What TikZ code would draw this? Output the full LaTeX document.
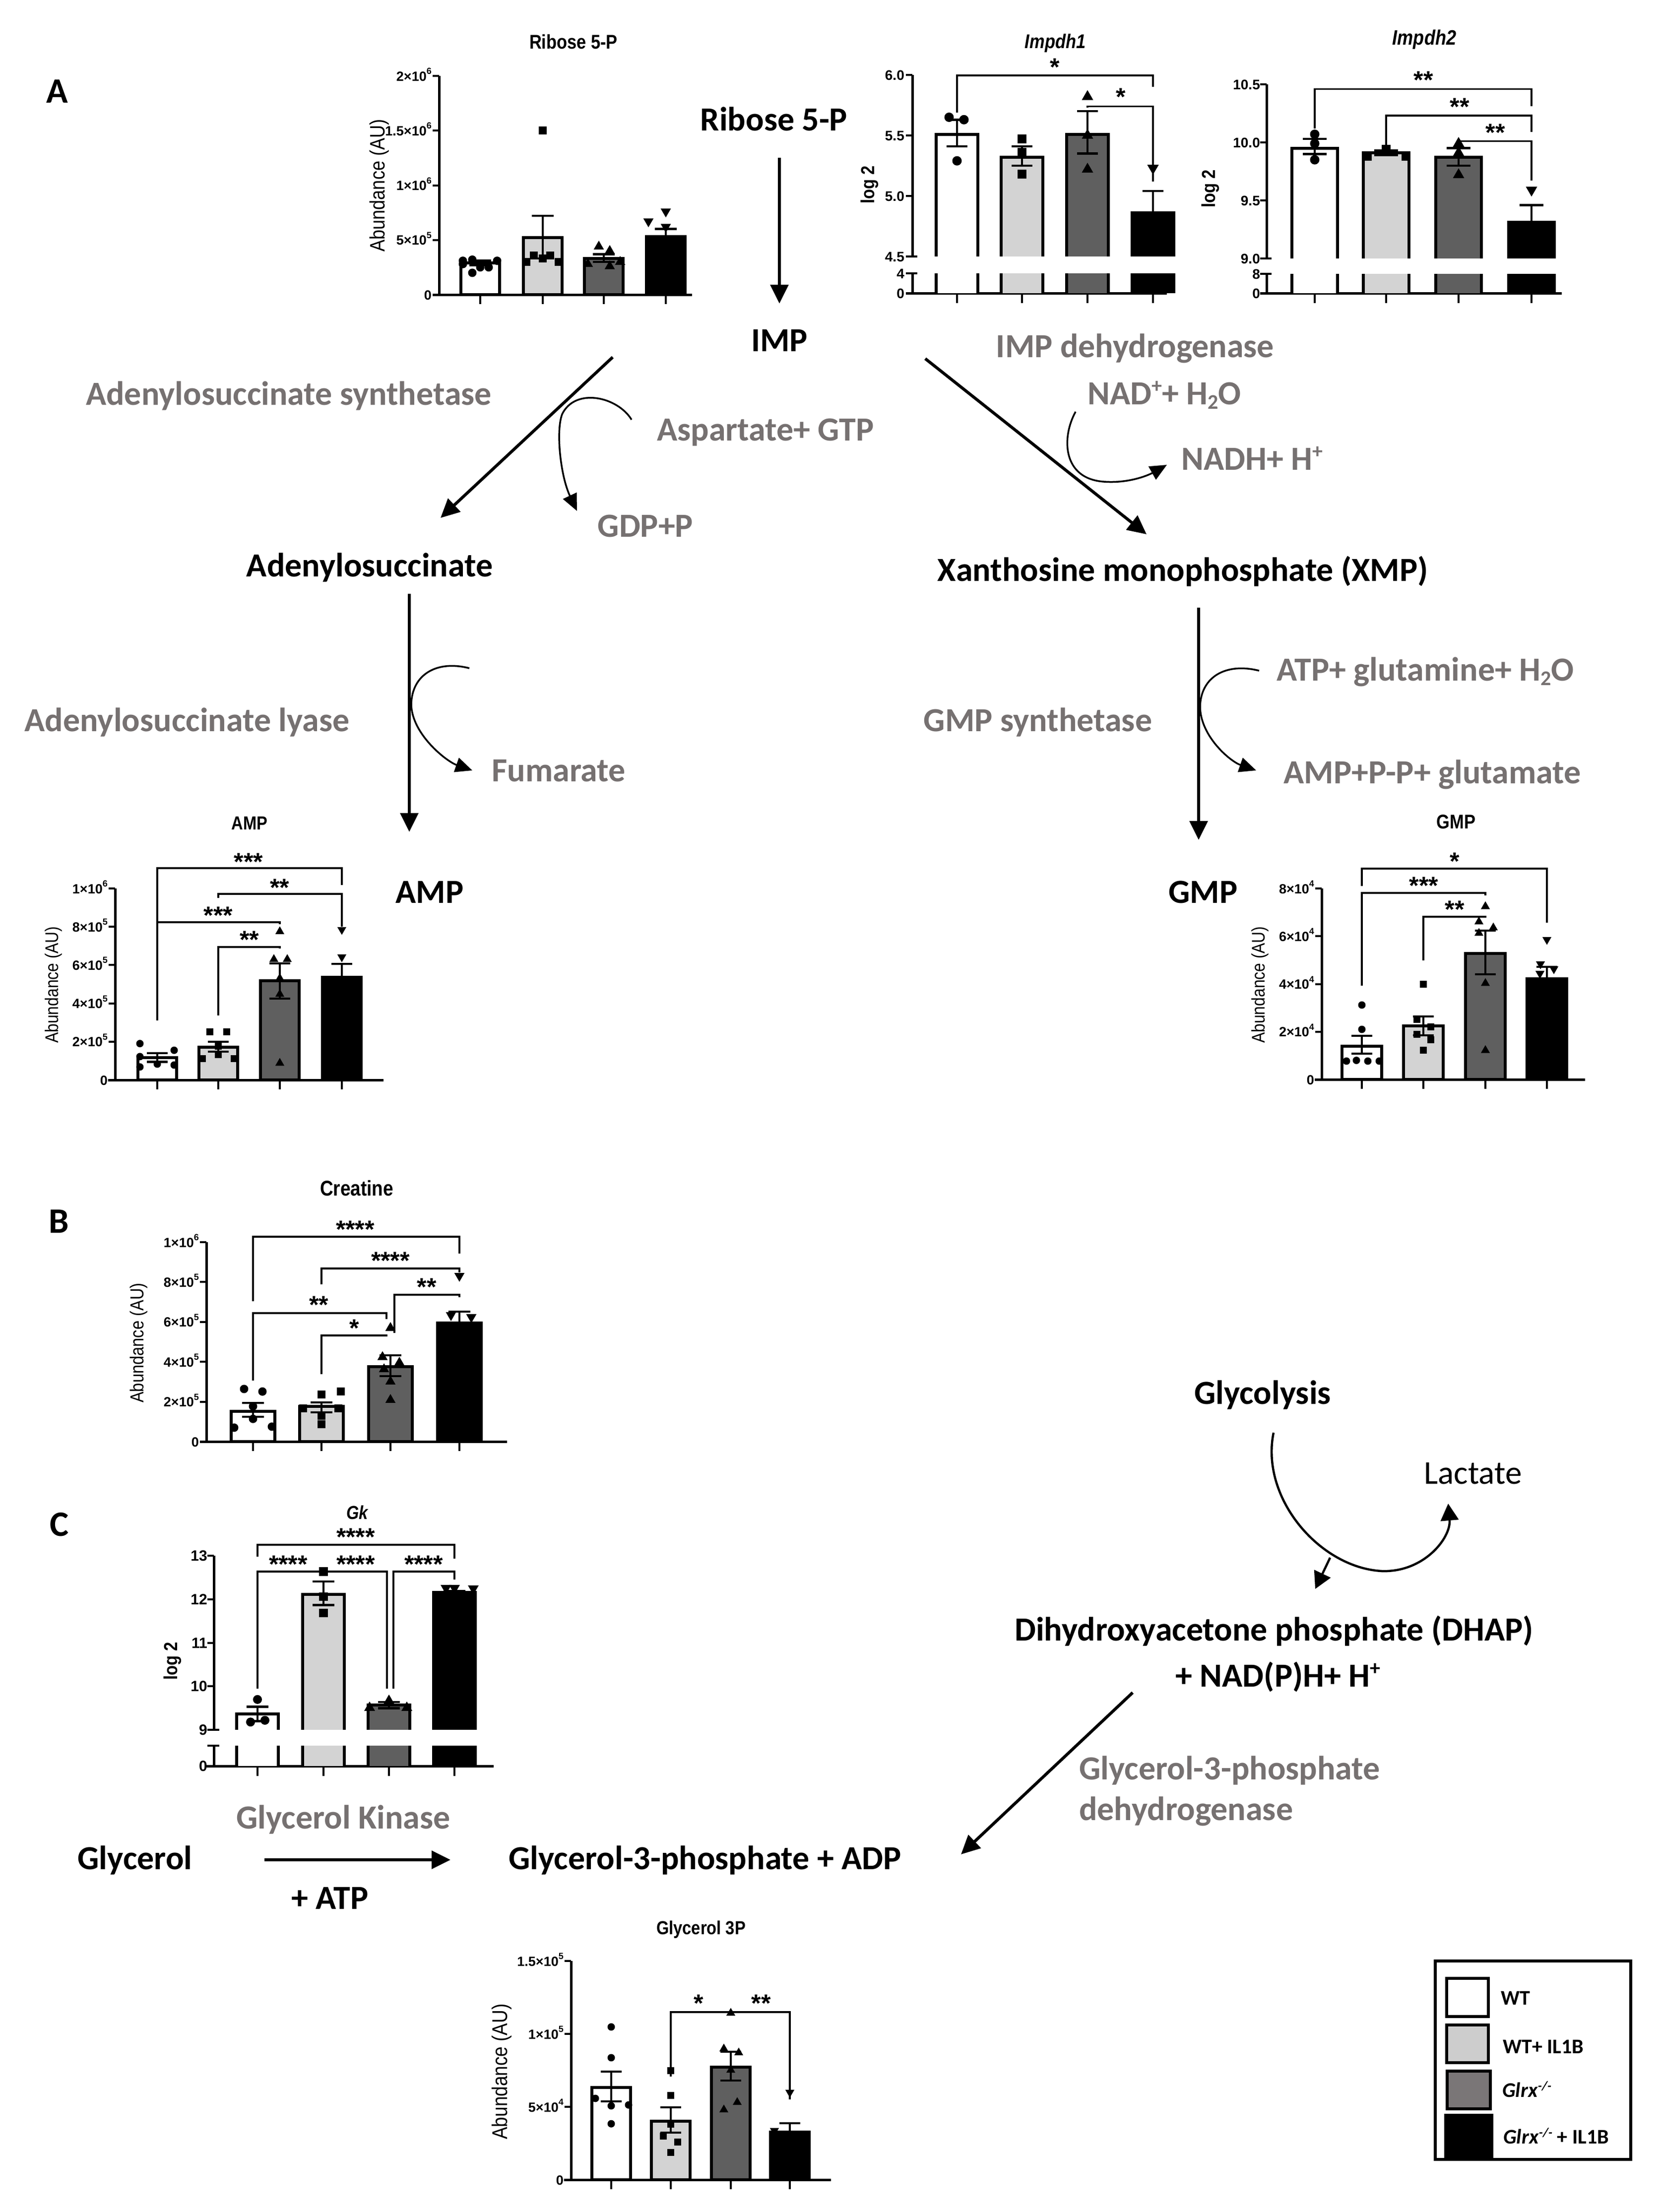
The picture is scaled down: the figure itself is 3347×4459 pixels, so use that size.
\documentclass[tikz,border=0pt]{standalone}
\usepackage{fontspec}
\setmainfont{Carlito}
\newfontfamily\cf[FakeStretch=0.86]{Liberation Sans}
\newfontfamily\sfn{Liberation Sans}
\usetikzlibrary{arrows.meta,shapes.geometric}
\definecolor{lg}{RGB}{211,211,211}
\definecolor{dg}{RGB}{95,95,95}
\definecolor{enz}{RGB}{118,113,113}
\definecolor{lgl}{RGB}{205,205,205}
\definecolor{dgl}{RGB}{122,118,119}
\newcommand\fsz[1]{\fontsize{#1}{#1}\selectfont}
\newcounter{mkc}
\newcommand\Yp[1]{\yz-\kk*#1}
\newcommand\chsup[1]{\raisebox{0.5em}{\fsz{\tss}#1}}
\newcommand\msup[1]{\raisebox{24pt}{\fsz{42}#1}}
\newcommand\msub[1]{\raisebox{-9pt}{\fsz{42}#1}}
\newcommand\pbar[3]{\filldraw[barst,fill=#3] ({#1-\hw},\Yp{0}) rectangle ({#1+\hw},\Yp{#2});}
\newcommand\bbar[3]{%
 \fill[#3] ({#1-\hw},\yu) rectangle ({#1+\hw},\Yp{#2});
 \draw[barst] ({#1-\hw},\yu) -- ({#1-\hw},\Yp{#2}) -- ({#1+\hw},\Yp{#2}) -- ({#1+\hw},\yu);
 \fill[#3] ({#1-\hw},\yl) rectangle ({#1+\hw},\yb);
 \draw[barst] ({#1-\hw},\yl) -- ({#1-\hw},\yb) ({#1+\hw},\yl) -- ({#1+\hw},\yb);}
\newcommand\perr[3]{\draw[errst] (#1,\Yp{#2}) -- (#1,\Yp{#3}) ({#1-\cw},\Yp{#2}) -- ({#1+\cw},\Yp{#2}) ({#1-\cw},\Yp{#3}) -- ({#1+\cw},\Yp{#3});}
\newcommand\dpt[3]{\stepcounter{mkc}\node[#1] (m\arabic{mkc}) at (#2,\Yp{#3}) {};}
\newcommand\sigbr[5]{\draw[brst] (#1,\Yp{#2}) -- (#1,\Yp{#3}) -- (#4,\Yp{#3}) -- (#4,\Yp{#5});}
\newcommand\sigst[3]{\stepcounter{mkc}\node[starst] (m\arabic{mkc}) at (#1,#2+28) {#3};}
\newcommand\ytl[2]{\draw[tkst] ({\ax-13},\Yp{#1}) -- (\ax,\Yp{#1}); \stepcounter{mkc}\node[tl] (m\arabic{mkc}) at ({\ax-15},\Yp{#1}+10) {#2};}
\newcommand\ptl[2]{\stepcounter{mkc}\node[tl] (m\arabic{mkc}) at ({\ax-16},#1+10) {#2};}
\def\ms{16}
\tikzset{
 axl/.style={line width=5pt},
 tkst/.style={line width=4pt},
 barst/.style={line width=6pt, draw=black},
 errst/.style={line width=4.5pt},
 brst/.style={line width=3.5pt},
 cir/.style={circle, fill=black, inner sep=0pt, minimum size=\ms pt},
 sqr/.style={rectangle, fill=black, inner sep=0pt, minimum size={0.95*\ms pt}},
 tup/.style={regular polygon, regular polygon sides=3, fill=black, inner sep=0pt, minimum size={1.4*\ms pt}},
 tdn/.style={tup, shape border rotate=180},
 tl/.style={anchor=base east, inner sep=0pt, font=\sfn\bfseries\fsz{\tfs}},
 ctitle/.style={anchor=base, inner sep=0pt, font=\cf\bfseries\fsz{40}},
 albl/.style={rotate=90, inner sep=0pt},
 starst/.style={anchor=base, inner sep=0pt, font=\sfn\bfseries\fsz{50}},
 met/.style={anchor=base, inner sep=0pt, font=\bfseries\fsz{68}},
 enzt/.style={met, text=enz},
 mainarr/.style={line width=6pt, -{Triangle[width=36pt,length=38pt]}},
 curvarr/.style={line width=3.5pt, -{Triangle[width=30pt,length=34pt]}},
 looparr/.style={line width=4.5pt, -{Triangle[width=36pt,length=34pt]}},
 legt/.style={anchor=base west, inner sep=0pt, font=\bfseries\fsz{42}},
}
\begin{document}
\begin{tikzpicture}[x=1pt,y=-1pt]
\useasboundingbox (0,0) rectangle (3347,4459);
\fill[white] (0,0) rectangle (3347,4459);

%================ Ribose 5-P chart
\def\yz{594}\def\kk{220.5}\def\hw{39}\def\cw{22}\def\ax{885}\def\tss{18}\def\tfs{27}\def\ms{17}
\draw[axl] (\ax,\Yp{2}) -- (\ax,\Yp{0});
\draw[axl] (872,\Yp{0}) -- (1395,\Yp{0});
\foreach \v/\lb in {0/0,0.5/5×10\chsup{5},1/1×10\chsup{6},1.5/1.5×10\chsup{6},2/2×10\chsup{6}}{\ytl{\v}{\lb}}
\foreach \x in {968,1094,1217,1342} \draw[tkst] (\x,\Yp{0}) -- (\x,\Yp{0}+19);
\pbar{968}{0.29}{white}\pbar{1094}{0.52}{lg}\pbar{1217}{0.33}{dg}\pbar{1342}{0.53}{black}
\perr{968}{0.27}{0.31}\perr{1094}{0.33}{0.72}\perr{1217}{0.30}{0.37}\perr{1342}{0.47}{0.60}
\dpt{cir}{933}{0.31}\dpt{cir}{952}{0.32}\dpt{cir}{952}{0.20}\dpt{cir}{968}{0.25}\dpt{cir}{985}{0.25}\dpt{cir}{1002}{0.31}\dpt{cir}{933}{0.28}
\dpt{sqr}{1094}{1.50}\dpt{sqr}{1061}{0.30}\dpt{sqr}{1076}{0.36}\dpt{sqr}{1094}{0.33}\dpt{sqr}{1109}{0.36}\dpt{sqr}{1126}{0.30}
\dpt{tup}{1207}{0.44}\dpt{tup}{1229}{0.40}\dpt{tup}{1185}{0.28}\dpt{tup}{1229}{0.26}\dpt{tup}{1250}{0.30}
\dpt{tdn}{1342}{0.76}\dpt{tdn}{1307}{0.67}\dpt{tdn}{1342}{0.62}
\node[ctitle] (t1) at (1156,99) {Ribose 5-P};
\node[albl, font=\cf\fsz{42}] (a1) at (765,374) {Abundance (AU)};

%================ Impdh1 chart
\def\yz{1615}\def\kk{244}\def\hw{42}\def\cw{21}\def\ax{1839}\def\yu{517}\def\yl{551}\def\yb{591}\def\tfs{28}\def\ms{19}
\draw[axl] (\ax,517) -- (\ax,151);
\draw[axl] (\ax,551) -- (\ax,591);
\draw[axl] (1826,591) -- (2352,591);
\foreach \yy in {151,273,395} \draw[tkst] (1826,\yy) -- (\ax,\yy);
\draw[tkst] (1826,517) -- (1849,517);
\draw[tkst] (1826,551) -- (1849,551);
\ptl{151}{6.0}\ptl{273}{5.5}\ptl{395}{5.0}\ptl{517}{4.5}\ptl{551}{4}\ptl{591}{0}
\foreach \x in {1929,2060,2192,2324} \draw[tkst] (\x,591) -- (\x,611);
\bbar{1929}{5.51}{white}\bbar{2060}{5.32}{lg}\bbar{2192}{5.51}{dg}\bbar{2324}{4.86}{black}
\perr{1929}{5.41}{5.63}\perr{2060}{5.25}{5.41}\perr{2192}{5.35}{5.70}\perr{2324}{4.70}{5.04}
\dpt{cir}{1913}{5.65}\dpt{cir}{1943}{5.63}\dpt{cir}{1929}{5.29}
\dpt{sqr}{2060}{5.47}\dpt{sqr}{2060}{5.36}\dpt{sqr}{2060}{5.18}
\dpt{tup}{2192}{5.82}\dpt{tup}{2192}{5.50}\dpt{tup}{2192}{5.22}
\dpt{tdn}{2324}{5.23}
\sigbr{1929}{5.69}{5.996}{2324}{5.90}
\sigbr{2192}{5.73}{5.74}{2324}{5.12}
\sigst{2126}{124}{*}\sigst{2259}{184}{*}
\node[ctitle, font=\cf\bfseries\itshape\fsz{40}] (t2) at (2127,97) {Impdh1};
\node[albl, font=\cf\bfseries\fsz{38}] (a2) at (1753,372) {log 2};

%================ Impdh2 chart
\def\yz{2627}\def\kk{234}\def\hw{46}\def\cw{24}\def\ax{2553}\def\yu{521}\def\yl{552}\def\yb{591}
\draw[axl] (\ax,521) -- (\ax,170);
\draw[axl] (\ax,552) -- (\ax,591);
\draw[axl] (2540,591) -- (3148,591);
\foreach \yy in {170,287,404} \draw[tkst] (2540,\yy) -- (\ax,\yy);
\draw[tkst] (2540,521) -- (2563,521);
\draw[tkst] (2540,552) -- (2563,552);
\def\ax{2556}
\ptl{170}{10.5}\ptl{287}{10.0}\ptl{404}{9.5}\ptl{521}{9.0}\ptl{552}{8}\ptl{591}{0}
\def\ax{2553}
\foreach \x in {2650,2794,2940,3087} \draw[tkst] (\x,591) -- (\x,611);
\bbar{2650}{9.95}{white}\bbar{2794}{9.91}{lg}\bbar{2940}{9.87}{dg}\bbar{3087}{9.31}{black}
\perr{2650}{9.90}{10.03}\perr{2794}{9.89}{9.93}\perr{2940}{9.80}{9.95}\perr{3087}{9.16}{9.46}
\dpt{cir}{2650}{10.07}\dpt{cir}{2650}{9.99}\dpt{cir}{2650}{9.85}
\dpt{sqr}{2794}{9.94}\dpt{sqr}{2756}{9.88}\dpt{sqr}{2834}{9.88}
\dpt{tup}{2940}{9.99}\dpt{tup}{2940}{9.91}\dpt{tup}{2940}{9.72}
\dpt{tdn}{3087}{9.59}
\sigbr{2650}{10.12}{10.46}{3087}{10.31}
\sigbr{2794}{9.97}{10.23}{3087}{10.09}
\sigbr{2940}{10.00}{10.01}{3087}{9.67}
\sigst{2869}{150}{**}\sigst{2942}{204}{**}\sigst{3014}{256}{**}
\node[ctitle, font=\cf\bfseries\itshape\fsz{42}] (t3) at (2871,91) {Impdh2};
\node[albl, font=\cf\bfseries\fsz{38}] (a3) at (2440,380) {log 2};

%================ AMP chart
\def\yz{2177}\def\kk{38.6}\def\hw{39}\def\cw{21}\def\ax{232}\def\tfs{27}\def\ms{15}
\draw[axl] (\ax,\Yp{10}) -- (\ax,\Yp{0});
\draw[axl] (218,\Yp{0}) -- (773,\Yp{0});
\foreach \v/\lb in {0/0,2/2×10\chsup{5},4/4×10\chsup{5},6/6×10\chsup{5},8/8×10\chsup{5},10/1×10\chsup{6}}{\ytl{\v}{\lb}}
\foreach \x in {317,440,564,689} \draw[tkst] (\x,\Yp{0}) -- (\x,\Yp{0}+19);
\pbar{317}{1.17}{white}\pbar{440}{1.71}{lg}\pbar{564}{5.18}{dg}\pbar{689}{5.36}{black}
\perr{317}{0.95}{1.40}\perr{440}{1.48}{1.99}\perr{564}{4.25}{6.09}\perr{689}{4.70}{6.06}
\dpt{cir}{282}{1.90}\dpt{cir}{282}{1.22}\dpt{cir}{282}{0.68}\dpt{cir}{317}{0.83}\dpt{cir}{351}{1.55}\dpt{cir}{351}{0.78}
\dpt{sqr}{423}{2.51}\dpt{sqr}{457}{2.51}\dpt{sqr}{440}{1.32}\dpt{sqr}{408}{1.11}\dpt{sqr}{472}{1.11}\dpt{sqr}{440}{1.76}
\dpt{tup}{564}{7.75}\dpt{tup}{552}{6.30}\dpt{tup}{579}{6.30}\dpt{tup}{564}{5.31}\dpt{tup}{564}{4.48}\dpt{tup}{564}{0.88}
\dpt{tdn}{689}{7.85}\dpt{tdn}{689}{6.42}
\sigbr{317}{3.12}{11.06}{689}{10.18}
\sigbr{440}{9.51}{9.72}{689}{8.00}
\sigbr{317}{5.75}{8.24}{564}{8.13}
\sigbr{440}{3.37}{6.94}{564}{6.87}
\sigst{501}{1726}{***}\sigst{564}{1778}{**}\sigst{440}{1834}{***}\sigst{503}{1883}{**}
\node[ctitle, font=\cf\bfseries\fsz{38}] (t4) at (503,1672) {AMP};
\node[albl, font=\cf\fsz{37}] (a4) at (108,1985) {Abundance (AU)};

%================ GMP chart
\def\yz{2176}\def\kk{48.1}\def\hw{40}\def\cw{21}\def\ax{2664}
\draw[axl] (\ax,\Yp{8}) -- (\ax,\Yp{0});
\draw[axl] (2650,\Yp{0}) -- (3195,\Yp{0});
\foreach \v/\lb in {0/0,2/2×10\chsup{4},4/4×10\chsup{4},6/6×10\chsup{4},8/8×10\chsup{4}}{\ytl{\v}{\lb}}
\foreach \x in {2745,2869,2994,3118} \draw[tkst] (\x,\Yp{0}) -- (\x,\Yp{0}+19);
\pbar{2745}{1.39}{white}\pbar{2869}{2.25}{lg}\pbar{2994}{5.28}{dg}\pbar{3118}{4.22}{black}
\perr{2745}{1.08}{1.83}\perr{2869}{1.85}{2.64}\perr{2994}{4.41}{6.24}\perr{3118}{3.70}{4.72}
\dpt{cir}{2745}{3.12}\dpt{cir}{2745}{2.10}\dpt{cir}{2714}{0.77}\dpt{cir}{2734}{0.80}\dpt{cir}{2757}{0.77}\dpt{cir}{2780}{0.77}
\dpt{sqr}{2869}{3.99}\dpt{sqr}{2856}{2.52}\dpt{sqr}{2884}{2.20}\dpt{sqr}{2856}{1.89}\dpt{sqr}{2884}{1.66}\dpt{sqr}{2869}{1.22}
\dpt{tup}{2994}{7.25}\dpt{tup}{2981}{6.61}\dpt{tup}{3010}{6.36}\dpt{tup}{2981}{6.13}\dpt{tup}{2994}{4.03}\dpt{tup}{2994}{1.22}
\dpt{tdn}{3118}{5.86}\dpt{tdn}{3105}{4.84}\dpt{tdn}{3132}{4.63}\dpt{tdn}{3104}{4.44}
\sigbr{2745}{8.11}{8.84}{3118}{6.57}
\sigbr{2745}{3.93}{7.82}{2994}{7.71}
\sigbr{2869}{4.99}{6.82}{2994}{6.78}
\sigst{2932}{1725}{*}\sigst{2870}{1774}{***}\sigst{2932}{1822}{**}
\node[ctitle, font=\cf\bfseries\fsz{40}] (t5) at (2935,1670) {GMP};
\node[albl, font=\cf\fsz{37}] (a5) at (2540,1985) {Abundance (AU)};

%================ Creatine chart
\def\yz{2906}\def\kk{40.2}\def\hw{44}\def\cw{22}\def\ax{416}\def\ms{17}
\draw[axl] (\ax,\Yp{10}) -- (\ax,\Yp{0});
\draw[axl] (403,\Yp{0}) -- (1022,\Yp{0});
\foreach \v/\lb in {0/0,2/2×10\chsup{5},4/4×10\chsup{5},6/6×10\chsup{5},8/8×10\chsup{5},10/1×10\chsup{6}}{\ytl{\v}{\lb}}
\foreach \x in {510,648,787,926} \draw[tkst] (\x,\Yp{0}) -- (\x,\Yp{0}+19);
\pbar{510}{1.52}{white}\pbar{648}{1.77}{lg}\pbar{787}{3.76}{dg}\pbar{926}{5.95}{black}
\perr{510}{1.24}{1.94}\perr{648}{1.47}{1.97}\perr{787}{3.28}{4.33}\perr{926}{5.40}{6.52}
\dpt{cir}{492}{2.64}\dpt{cir}{529}{2.51}\dpt{cir}{510}{1.77}\dpt{cir}{510}{1.14}\dpt{cir}{472}{0.70}\dpt{cir}{548}{0.75}
\dpt{sqr}{687}{2.51}\dpt{sqr}{648}{2.36}\dpt{sqr}{611}{1.67}\dpt{sqr}{682}{1.67}\dpt{sqr}{648}{1.29}\dpt{sqr}{648}{0.87}
\dpt{tup}{787}{5.70}\dpt{tup}{771}{4.24}\dpt{tup}{805}{3.96}\dpt{tup}{774}{3.63}\dpt{tup}{787}{3.01}\dpt{tup}{787}{2.09}
\dpt{tdn}{926}{8.31}\dpt{tdn}{909}{6.34}\dpt{tdn}{950}{6.24}
\sigbr{510}{7.04}{10.27}{926}{9.43}
\sigbr{648}{7.89}{8.68}{926}{8.48}
\sigbr{795}{5.45}{7.36}{926}{7.25}
\sigbr{510}{3.06}{6.44}{779}{6.14}
\sigbr{648}{3.38}{5.32}{779}{5.27}
\sigst{716}{2467}{****}\sigst{787}{2530}{****}\sigst{860}{2583}{**}\sigst{643}{2619}{**}\sigst{714}{2666}{*}
\node[ctitle, font=\cf\bfseries\fsz{43}] (t6) at (719,2410) {Creatine};
\node[albl, font=\cf\fsz{38}] (a6) at (280,2707) {Abundance (AU)};

%================ Gk chart
\def\yz{4273.6}\def\kk{87.4}\def\hw{42}\def\cw{22}\def\ax{431}\def\yu{3487}\def\yl{3519}\def\yb{3560}\def\tfs{30}\def\ms{18}
\draw[axl] (\ax,3487) -- (\ax,3136);
\draw[axl] (\ax,3519) -- (\ax,3560);
\draw[axl] (414,3560) -- (995,3560);
\foreach \yy in {3136,3224,3312,3399} \draw[tkst] (418,\yy) -- (\ax,\yy);
\draw[tkst] (418,3487) -- (442,3487);
\draw[tkst] (418,3519) -- (442,3519);
\def\ax{434}
\ptl{3136}{13}\ptl{3224}{12}\ptl{3312}{11}\ptl{3399}{10}\ptl{3487}{9}\ptl{3560}{0}
\def\ax{431}
\foreach \x in {519,652,784,916} \draw[tkst] (\x,3560) -- (\x,3580);
\bbar{519}{9.37}{white}\bbar{652}{12.12}{lg}\bbar{784}{9.57}{dg}\bbar{916}{12.17}{black}
\perr{519}{9.20}{9.53}\perr{652}{11.88}{12.42}\perr{784}{9.50}{9.64}\perr{916}{12.14}{12.20}
\dpt{cir}{519}{9.70}\dpt{cir}{505}{9.18}\dpt{cir}{534}{9.22}
\dpt{sqr}{652}{12.65}\dpt{sqr}{652}{12.07}\dpt{sqr}{652}{11.69}
\dpt{tup}{784}{9.67}\dpt{tup}{745}{9.51}\dpt{tup}{820}{9.51}
\dpt{tdn}{899}{12.27}\dpt{tdn}{954}{12.26}\dpt{tdn}{916}{12.27}
\sigbr{519}{12.99}{13.27}{916}{12.95}
\sigbr{519}{9.95}{12.65}{780}{9.95}
\sigbr{793}{9.95}{12.65}{916}{12.47}
\sigst{717}{3087}{****}\sigst{581}{3142}{****}\sigst{717}{3142}{****}\sigst{854}{3142}{****}
\node[ctitle, font=\cf\bfseries\itshape\fsz{38}] (t7) at (720,3062) {Gk};
\node[albl, font=\cf\bfseries\fsz{38}] (a7) at (348,3348) {log 2};

%================ Glycerol 3P chart
\def\yz{4394}\def\kk{29.4}\def\hw{39}\def\cw{21}\def\ax{1151}\def\tfs{27}\def\ms{15}
\draw[axl] (\ax,\Yp{15}) -- (\ax,\Yp{0});
\draw[axl] (1137,\Yp{0}) -- (1675,\Yp{0});
\foreach \v/\lb in {0/0,5/5×10\chsup{4},10/1×10\chsup{5},15/1.5×10\chsup{5}}{\ytl{\v}{\lb}}
\foreach \x in {1232,1352,1473,1592} \draw[tkst] (\x,\Yp{0}) -- (\x,\Yp{0}+19);
\pbar{1232}{6.33}{white}\pbar{1352}{4.01}{lg}\pbar{1473}{7.72}{dg}\pbar{1592}{3.27}{black}
\perr{1232}{5.37}{7.41}\perr{1352}{3.23}{4.97}\perr{1473}{6.80}{8.78}\perr{1592}{2.70}{3.88}
\dpt{cir}{1232}{10.48}\dpt{cir}{1232}{8.37}\dpt{cir}{1200}{5.58}\dpt{cir}{1267}{5.13}\dpt{cir}{1232}{5.07}\dpt{cir}{1232}{3.84}
\dpt{sqr}{1352}{7.48}\dpt{sqr}{1352}{5.78}\dpt{sqr}{1352}{3.81}\dpt{sqr}{1337}{2.99}\dpt{sqr}{1366}{2.59}\dpt{sqr}{1352}{1.87}
\dpt{tup}{1473}{11.43}\dpt{tup}{1459}{8.98}\dpt{tup}{1489}{8.71}\dpt{tup}{1473}{7.52}\dpt{tup}{1486}{5.31}\dpt{tup}{1459}{4.80}
\dpt{tdn}{1592}{5.99}\dpt{tdn}{1561}{3.37}
\sigbr{1352}{7.07}{11.50}{1592}{5.51}
\sigst{1408}{4027}{*}\sigst{1534}{4027}{**}
\node[ctitle, font=\cf\bfseries\fsz{38}] (t8) at (1413,3899) {Glycerol 3P};
\node[albl, font=\cf\fsz{43}] (a8) at (1011,4176) {Abundance (AU)};

%================ Legend
\draw[line width=6pt] (2893,3953) rectangle (3287,4353);
\filldraw[line width=6pt, fill=white] (2916,3988) rectangle (3000,4065);
\filldraw[line width=6pt, fill=lgl] (2916,4082) rectangle (3000,4158);
\filldraw[line width=6pt, fill=dgl] (2917,4175) rectangle (3004,4251);
\filldraw[line width=6pt, fill=black] (2914,4264) rectangle (3007,4347);
\node[legt] (l1) at (3025,4041) {WT};
\node[legt] (l2) at (3029,4139) {WT+ IL1B};
\node[legt] (l3) at (3028,4227) {\textit{Glrx}\raisebox{14pt}{\fsz{26}\textit{-/-}}};
\node[legt] (l4) at (3030,4321) {\textit{Glrx}\raisebox{14pt}{\fsz{26}\textit{-/-}} + IL1B};

%================ Panel letters
\node[met, font=\bfseries\fsz{72}] (pA) at (115,207) {A};
\node[met, font=\bfseries\fsz{72}] (pB) at (119,2485) {B};
\node[met, font=\bfseries\fsz{72}] (pC) at (120,3096) {C};

%================ Pathway text
\node[met] (ribose) at (1560,263) {Ribose 5-P};
\node[met] (imp) at (1571,708) {IMP};
\node[enzt] (impdh) at (2288,720) {IMP dehydrogenase};
\node[enzt] (nad) at (2347,815) {NAD\msup{+}+ H\msub{2}O};
\node[enzt] (nadh) at (2524,947) {NADH+ H\msup{+}};
\node[enzt] (adss) at (582,816) {Adenylosuccinate synthetase};
\node[enzt] (asp) at (1543,888) {Aspartate+ GTP};
\node[enzt] (gdp) at (1301,1082) {GDP+P};
\node[met] (adsucc) at (745,1162) {Adenylosuccinate};
\node[met] (xmp) at (2384,1171) {Xanthosine monophosphate (XMP)};
\node[enzt] (adsl) at (377,1474) {Adenylosuccinate lyase};
\node[enzt] (fum) at (1126,1575) {Fumarate};
\node[met] (amp) at (866,1820) {AMP};
\node[enzt] (gmps) at (2092,1474) {GMP synthetase};
\node[enzt] (atp) at (2873,1372) {ATP+ glutamine+ H\msub{2}O};
\node[enzt] (ampp) at (2887,1579) {AMP+P-P+ glutamate};
\node[met] (gmp) at (2425,1820) {GMP};
\node[met] (glyc) at (2545,2830) {Glycolysis};
\node[met, font=\fsz{67}] (lac) at (2969,2991) {Lactate};
\node[met] (dhap) at (2568,3307) {Dihydroxyacetone phosphate (DHAP)};
\node[met] (nadph) at (2576,3400) {+ NAD(P)H+ H\msup{+}};
\node[enzt, anchor=base west] (g3pd1) at (2175,3587) {Glycerol-3-phosphate};
\node[enzt, anchor=base west] (g3pd2) at (2175,3669) {dehydrogenase};
\node[enzt] (gk) at (692,3686) {Glycerol Kinase};
\node[met] (glycerol) at (272,3768) {Glycerol};
\node[met] (atp2) at (665,3848) {+ ATP};
\node[met] (g3p) at (1421,3768) {Glycerol-3-phosphate + ADP};

%================ Arrows
\coordinate (r1) at (1571,318); \coordinate (r2) at (1571,612);
\draw[mainarr] (r1) -- (r2);
\coordinate (i1) at (1235,720); \coordinate (i2) at (888,1044);
\draw[mainarr] (i1) -- (i2);
\coordinate (x1) at (1865,723); \coordinate (x2) at (2311,1077);
\draw[mainarr] (x1) -- (x2);
\coordinate (s1) at (825,1197); \coordinate (s2) at (825,1677);
\draw[mainarr] (s1) -- (s2);
\coordinate (g1) at (2416,1225); \coordinate (g2) at (2416,1693);
\draw[mainarr] (g1) -- (g2);
\coordinate (d1) at (2283,3412); \coordinate (d2) at (1937,3738);
\draw[mainarr] (d1) -- (d2);
\coordinate (k1) at (533,3749); \coordinate (k2) at (908,3749);
\draw[mainarr] (k1) -- (k2);

\coordinate (ca1) at (1273,846); \coordinate (ca2) at (1163,1030);
\draw[curvarr] (ca1) .. controls (1245,800) and (1160,780) .. (1133,835) .. controls (1120,870) and (1130,960) .. (ca2);
\coordinate (cn1) at (2168,830); \coordinate (cn2) at (2352,937);
\draw[curvarr] (cn1) .. controls (2140,880) and (2140,965) .. (2225,971) .. controls (2280,975) and (2320,955) .. (cn2);
\coordinate (cf1) at (946,1347); \coordinate (cf2) at (952,1553);
\draw[curvarr] (cf1) .. controls (880,1330) and (830,1360) .. (829,1420) .. controls (830,1480) and (900,1535) .. (cf2);
\coordinate (cg1) at (2538,1352); \coordinate (cg2) at (2532,1553);
\draw[curvarr] (cg1) .. controls (2470,1335) and (2420,1365) .. (2419,1425) .. controls (2420,1485) and (2480,1535) .. (cg2);
\coordinate (cl1) at (2567,2888); \coordinate (cl2) at (2919,3031);
\draw[looparr] (cl1) .. controls (2540,3020) and (2660,3160) .. (2785,3167) .. controls (2870,3170) and (2925,3100) .. (cl2);
\coordinate (cd1) at (2681,3140); \coordinate (cd2) at (2651,3203);
\draw[looparr] (cd1) -- (cd2);
\end{tikzpicture}
\end{document}
